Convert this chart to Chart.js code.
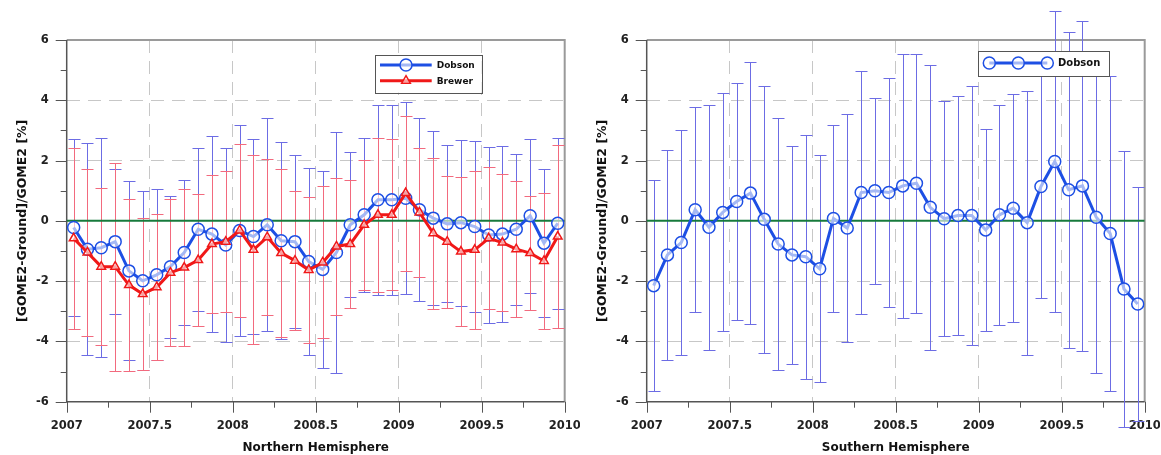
<!DOCTYPE html>
<html>
<head>
<meta charset="utf-8">
<script src="https://cdn.jsdelivr.net/npm/chart.js@4.4.1/dist/chart.umd.min.js"></script>
<style>
  html, body { margin: 0; padding: 0; background: #fff; width: 1161px; height: 455px; overflow: hidden; }
  .panel { position: absolute; top: 0; width: 580px; height: 455px; }
  #north { left: 0; }
  #south { left: 580px; }
</style>
</head>
<body>
<div class="panel" id="north"><canvas id="cNorth" width="580" height="455"></canvas></div>
<div class="panel" id="south"><canvas id="cSouth" width="580" height="455"></canvas></div>
<script>
// Monthly sample times (decimal year, mid-month)
const months = [
  2007.042, 2007.125, 2007.208, 2007.292, 2007.375, 2007.458, 2007.542, 2007.625, 2007.708, 2007.792, 2007.875, 2007.958,
  2008.042, 2008.125, 2008.208, 2008.292, 2008.375, 2008.458, 2008.542, 2008.625, 2008.708, 2008.792, 2008.875, 2008.958,
  2009.042, 2009.125, 2009.208, 2009.292, 2009.375, 2009.458, 2009.542, 2009.625, 2009.708, 2009.792, 2009.875, 2009.958
];

// Northern Hemisphere: Dobson
const dobsonNorth = [
  -0.22, -0.94, -0.89, -0.69, -1.66, -1.99, -1.79, -1.52, -1.05, -0.28, -0.44, -0.80,
  -0.32, -0.52, -0.13, -0.66, -0.69, -1.35, -1.61, -1.05, -0.13, 0.20, 0.70, 0.70,
  0.75, 0.37, 0.09, -0.10, -0.06, -0.19, -0.47, -0.44, -0.28, 0.17, -0.74, -0.08
];
const dobsonNorthErr = [
  2.95, 3.52, 3.63, 2.41, 2.97, 2.97, 2.84, 2.36, 2.42, 2.70, 3.26, 3.23,
  3.50, 3.23, 3.54, 3.27, 2.86, 3.09, 3.27, 4.00, 2.40, 2.55, 3.15, 3.15,
  3.19, 3.03, 2.89, 2.60, 2.75, 2.84, 2.92, 2.92, 2.50, 2.55, 2.45, 2.84
];

// Northern Hemisphere: Brewer
const brewerNorth = [
  -0.58, -1.05, -1.52, -1.52, -2.13, -2.43, -2.20, -1.72, -1.55, -1.30, -0.77, -0.69,
  -0.32, -0.96, -0.54, -1.07, -1.32, -1.63, -1.38, -0.85, -0.77, -0.13, 0.20, 0.20,
  0.92, 0.28, -0.41, -0.69, -1.02, -0.96, -0.58, -0.72, -0.94, -1.07, -1.33, -0.52
];
const brewerNorthErr = [
  3.00, 2.76, 2.60, 3.45, 2.84, 2.52, 2.43, 2.44, 2.60, 2.18, 2.30, 2.35,
  2.86, 3.13, 2.58, 2.78, 2.31, 2.42, 2.52, 2.26, 2.11, 2.16, 2.55, 2.50,
  2.57, 2.15, 2.50, 2.19, 2.46, 2.62, 2.36, 2.26, 2.26, 1.90, 2.27, 3.05
];

// Southern Hemisphere: Dobson
const dobsonSouth = [
  -2.15, -1.13, -0.72, 0.37, -0.21, 0.28, 0.64, 0.92, 0.05, -0.77, -1.13, -1.19,
  -1.59, 0.08, -0.24, 0.94, 1.00, 0.94, 1.16, 1.25, 0.45, 0.07, 0.18, 0.18,
  -0.30, 0.20, 0.42, -0.06, 1.14, 1.97, 1.03, 1.16, 0.12, -0.42, -2.26, -2.76
];
const dobsonSouthErr = [
  3.51, 3.48, 3.72, 3.40, 4.07, 3.95, 3.94, 4.34, 4.44, 4.18, 3.61, 4.05,
  3.77, 3.11, 3.78, 4.04, 3.08, 3.80, 4.37, 4.30, 4.72, 3.89, 3.96, 4.31,
  3.35, 3.65, 3.78, 4.38, 3.71, 4.98, 5.25, 5.47, 5.18, 5.22, 4.57, 3.88
];

// Axis tick labels
const xTickValues = [2007, 2007.5, 2008, 2008.5, 2009, 2009.5, 2010];
const xTickLabels = ['2007', '2007.5', '2008', '2008.5', '2009', '2009.5', '2010'];
const yTickValues = [-6, -4, -2, 0, 2, 4, 6];
const yTickLabels = ['-6', '-4', '-2', '0', '2', '4', '6'];

const FONT = '"DejaVu Sans", Verdana, sans-serif';
const BLUE = '#1d4fe4';
const RED = '#f01818';
const GREEN = '#177a3c';

function near(a, b) { return Math.abs(a - b) < 1e-6; }
function points(xs, ys) { return xs.map((x, i) => ({ x: x, y: ys[i] })); }

// Vertical error bars with caps, drawn beneath the series lines
const errorBarPlugin = {
  id: 'errorBars',
  beforeDatasetsDraw(chart) {
    const ctx = chart.ctx;
    const xs = chart.scales.x, ys = chart.scales.y;
    chart.data.datasets.forEach((ds) => {
      if (!ds.errors) return;
      ctx.save();
      ctx.strokeStyle = ds.errorColor;
      ctx.lineWidth = 1;
      ds.data.forEach((p, j) => {
        const e = ds.errors[j];
        const px = Math.round(xs.getPixelForValue(p.x)) + 0.5;
        const yHi = Math.round(ys.getPixelForValue(p.y + e)) + 0.5;
        const yLo = Math.round(ys.getPixelForValue(p.y - e)) + 0.5;
        ctx.beginPath();
        ctx.moveTo(px, yHi); ctx.lineTo(px, yLo);
        ctx.moveTo(px - 6, yHi); ctx.lineTo(px + 6, yHi);
        ctx.moveTo(px - 6, yLo); ctx.lineTo(px + 6, yLo);
        ctx.stroke();
      });
      ctx.restore();
    });
  }
};

// Plot frame and major/minor tick marks
const framePlugin = {
  id: 'frame',
  beforeDatasetsDraw(chart) {
    const ctx = chart.ctx, a = chart.chartArea;
    ctx.save();
    ctx.strokeStyle = '#9a9a9a';
    ctx.lineWidth = 2;
    ctx.beginPath();
    ctx.moveTo(a.left, a.top); ctx.lineTo(a.right, a.top); ctx.lineTo(a.right, a.bottom);
    ctx.stroke();
    ctx.strokeStyle = '#555';
    ctx.lineWidth = 1.5;
    ctx.beginPath();
    ctx.moveTo(a.left, a.top); ctx.lineTo(a.left, a.bottom); ctx.lineTo(a.right, a.bottom);
    ctx.stroke();
    ctx.lineWidth = 1;
    ctx.beginPath();
    chart.scales.x.ticks.forEach(t => {
      const px = Math.round(chart.scales.x.getPixelForValue(t.value)) + 0.5;
      const len = xTickValues.some(v => near(v, t.value)) ? 11 : 6;
      ctx.moveTo(px, a.bottom); ctx.lineTo(px, a.bottom + len);
    });
    chart.scales.y.ticks.forEach(t => {
      const py = Math.round(chart.scales.y.getPixelForValue(t.value)) + 0.5;
      const len = yTickValues.some(v => near(v, t.value)) ? 11 : 6;
      ctx.moveTo(a.left, py); ctx.lineTo(a.left - len, py);
    });
    ctx.stroke();
    ctx.restore();
  }
};

// Boxed legend placed inside the plot
const boxLegendPlugin = {
  id: 'boxLegend',
  afterDatasetsDraw(chart, args, opts) {
    const ctx = chart.ctx;
    ctx.save();
    ctx.fillStyle = '#fff';
    ctx.fillRect(opts.x, opts.y, opts.w, opts.h);
    ctx.strokeStyle = '#555';
    ctx.lineWidth = 1;
    ctx.strokeRect(Math.round(opts.x) + 0.5, Math.round(opts.y) + 0.5, Math.round(opts.w), Math.round(opts.h));
    let row = 0;
    chart.data.datasets.forEach((ds) => {
      if (!ds.label) return;
      const y = opts.firstRow + row * opts.rowGap;
      ctx.strokeStyle = ds.borderColor;
      ctx.lineWidth = 3;
      ctx.beginPath();
      ctx.moveTo(opts.lineX0, y); ctx.lineTo(opts.lineX1, y);
      ctx.stroke();
      opts.markers.forEach(mx => {
        ctx.fillStyle = 'rgba(255,255,255,0.6)';
        ctx.strokeStyle = ds.borderColor;
        ctx.lineWidth = 1.5;
        Chart.helpers.drawPoint(ctx, { pointStyle: ds.pointStyle, radius: ds.legendRadius, borderWidth: 1.5, rotation: 0 }, mx, y);
      });
      ctx.fillStyle = '#111';
      ctx.font = 'bold ' + opts.fontSize + 'px ' + FONT;
      ctx.textBaseline = 'middle';
      ctx.textAlign = 'left';
      ctx.fillText(ds.label, opts.textX, y + 0.5);
      row++;
    });
    ctx.restore();
  }
};

function seriesDataset(label, ys, errs, color, errColor, style, radius, order) {
  return {
    label: label,
    data: points(months, ys),
    errors: errs,
    errorColor: errColor,
    borderColor: color,
    backgroundColor: color,
    borderWidth: 3,
    pointStyle: style,
    pointRadius: radius,
    legendRadius: radius,
    pointBorderWidth: 1.5,
    pointBorderColor: color,
    pointBackgroundColor: 'rgba(255,255,255,0.6)',
    tension: 0,
    order: order
  };
}

function zeroDataset() {
  return {
    label: '',
    data: [{ x: 2007, y: 0 }, { x: 2010, y: 0 }],
    borderColor: GREEN,
    borderWidth: 2,
    pointRadius: 0,
    order: 10
  };
}

function makeChart(canvasId, xTitle, datasets, legend) {
  return new Chart(document.getElementById(canvasId), {
    type: 'line',
    data: { datasets: datasets },
    options: {
      responsive: false,
      animation: false,
      events: [],
      layout: { padding: { top: 40, right: 15.3, left: 0, bottom: 0 } },
      plugins: {
        legend: { display: false },
        tooltip: { enabled: false },
        boxLegend: legend
      },
      scales: {
        x: {
          type: 'linear',
          min: 2007, max: 2010,
          afterFit: s => { s.height = 53.3; s.paddingLeft = 0; s.paddingRight = 0; },
          ticks: {
            stepSize: 0.25,
            autoSkip: false,
            maxRotation: 0,
            padding: 17,
            color: '#222',
            font: { family: FONT, size: 11.5, weight: 'bold' },
            callback: v => {
              const i = xTickValues.findIndex(t => near(t, v));
              return i >= 0 ? xTickLabels[i] : '';
            }
          },
          grid: {
            drawTicks: false,
            lineWidth: 1,
            color: c => {
              const v = c.tick ? c.tick.value : null;
              if (v === null) return 'transparent';
              const major = xTickValues.some(t => near(t, v));
              return major && !near(v, 2007) && !near(v, 2010) ? 'rgba(175,175,175,0.7)' : 'transparent';
            }
          },
          border: { display: false, dash: [13, 8] },
          title: {
            display: true,
            text: xTitle,
            color: '#111',
            font: { family: FONT, size: 12, weight: 'bold' },
            padding: { top: 0, bottom: 0 }
          }
        },
        y: {
          type: 'linear',
          min: -6, max: 6,
          afterFit: s => { s.width = 66.7; s.paddingTop = 0; s.paddingBottom = 0; },
          ticks: {
            stepSize: 1,
            autoSkip: false,
            padding: 18,
            color: '#222',
            font: { family: FONT, size: 11.5, weight: 'bold' },
            callback: v => {
              const i = yTickValues.findIndex(t => near(t, v));
              return i >= 0 ? yTickLabels[i] : '';
            }
          },
          grid: {
            drawTicks: false,
            lineWidth: 1,
            color: c => {
              const v = c.tick ? c.tick.value : null;
              if (v === null) return 'transparent';
              const major = yTickValues.some(t => near(t, v));
              return major && !near(v, 0) && !near(Math.abs(v), 6) ? 'rgba(175,175,175,0.7)' : 'transparent';
            }
          },
          border: { display: false, dash: [13, 8] },
          title: {
            display: true,
            text: '[GOME2-Ground]/GOME2 [%]',
            color: '#111',
            font: { family: FONT, size: 12.5, weight: 'bold' },
            padding: { top: 15, bottom: 0 }
          }
        }
      }
    },
    plugins: [framePlugin, errorBarPlugin, boxLegendPlugin]
  });
}

makeChart('cNorth', 'Northern Hemisphere', [
  seriesDataset('Dobson', dobsonNorth, dobsonNorthErr, BLUE, '#6c6ce4', 'circle', 6, 2),
  seriesDataset('Brewer', brewerNorth, brewerNorthErr, RED, '#f26a7e', 'triangle', 5, 1),
  zeroDataset()
], {
  x: 375, y: 55, w: 106.7, h: 37.7,
  firstRow: 65, rowGap: 15.7,
  lineX0: 380, lineX1: 431.7, markers: [406],
  textX: 436.7, fontSize: 9
});

makeChart('cSouth', 'Southern Hemisphere', [
  seriesDataset('Dobson', dobsonSouth, dobsonSouthErr, BLUE, '#6c6ce4', 'circle', 6, 2),
  zeroDataset()
], {
  x: 398.3, y: 51, w: 130.7, h: 25,
  firstRow: 63, rowGap: 15,
  lineX0: 409.3, lineX1: 467.3, markers: [409.3, 438.3, 467.3],
  textX: 478, fontSize: 10
});
</script>
</body>
</html>
